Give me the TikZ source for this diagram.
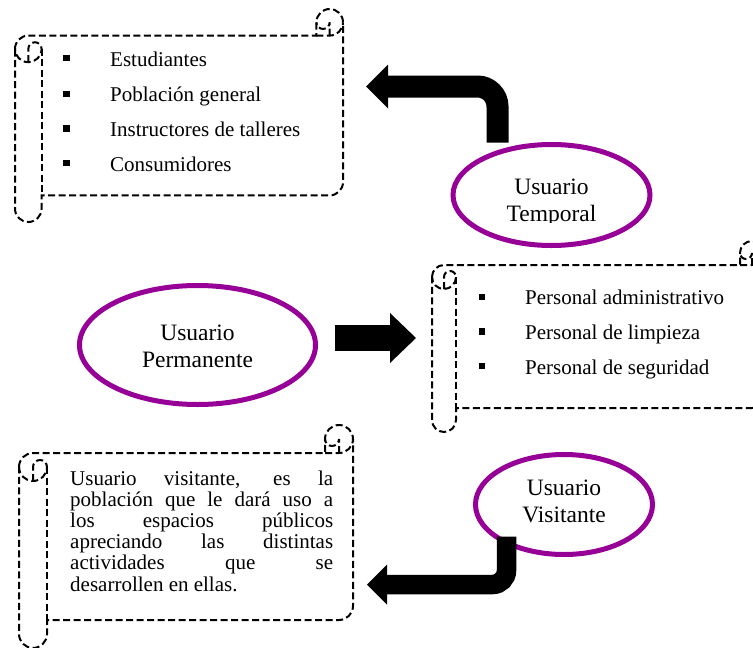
\documentclass[tikz,border=0pt]{standalone}
\usepackage{fontspec}
\setmainfont{Liberation Serif}
\usetikzlibrary{shapes.geometric,arrows.meta}
\definecolor{elpurple}{RGB}{150,0,150}
\newcommand\hscroll[5]{% left top right bottom ch
  \pgfmathsetmacro\scrHalf{#5/2}%
  \pgfmathsetmacro\scrQuar{#5/4}%
  \draw[scrollline] (#1,{#2+1.5*#5}) arc[start angle=180,delta angle=90,radius=\scrHalf]
     -- ({#3-#5},{#2+#5}) -- ({#3-#5},{#2+\scrHalf})
     arc[start angle=180,delta angle=180,radius=\scrHalf]
     -- (#3,{#4-1.5*#5}) arc[start angle=0,delta angle=90,radius=\scrHalf]
     -- ({#1+#5},{#4-#5}) -- ({#1+#5},{#4-\scrHalf})
     arc[start angle=0,delta angle=180,radius=\scrHalf] -- cycle;
  \draw[scrollline] ({#3-#5},{#2+#5}) -- ({#3-\scrHalf},{#2+#5})
     arc[start angle=90,delta angle=-90,radius=\scrHalf];
  \draw[scrollline] ({#3-\scrHalf},{#2+#5}) -- ({#3-\scrHalf},{#2+\scrHalf})
     arc[start angle=0,delta angle=180,radius=\scrQuar];
  \draw[scrollline] ({#1+\scrHalf},{#2+2*#5}) -- ({#1+\scrHalf},{#2+1.5*#5})
     arc[start angle=180,delta angle=180,radius=\scrQuar]
     arc[start angle=0,delta angle=180,radius=\scrHalf];
  \draw[scrollline] ({#1+#5},{#2+1.5*#5}) -- ({#1+#5},{#4-#5});
}
\begin{document}
\begin{tikzpicture}[x=1pt,y=-1pt,
  scrollline/.style={line width=2pt,dash pattern=on 7pt off 3.5pt,black},
  userell/.style={ellipse,draw=elpurple,line width=5pt,inner sep=0pt},
  eltext/.style={anchor=base,inner sep=0pt,font=\fontsize{23.5}{27}\selectfont},
  itemtext/.style={anchor=base west,inner sep=0pt,font=\fontsize{21}{25}\selectfont},
  bul/.style={fill=black,minimum size=6.5pt,inner sep=0pt},
  bigarrow/.style={draw=black,line cap=butt}
]
\useasboundingbox (0,0) rectangle (753,648);
\clip (0,0) rectangle (753,648);

% scrolls
\hscroll{15}{9}{343}{222}{26.6}
\hscroll{432}{241}{764}{432}{24}
\hscroll{19}{425}{353}{648}{28}

% list 1
\node[bul] (b11) at (66.5,58) {};
\node[bul] (b12) at (66.5,94) {};
\node[bul] (b13) at (66.5,128.5) {};
\node[bul] (b14) at (66.5,163) {};
\node[itemtext] (t11) at (110,66.5) {Estudiantes};
\node[itemtext] (t12) at (110,101.5) {Población general};
\node[itemtext] (t13) at (110,136.5) {Instructores de talleres};
\node[itemtext] (t14) at (110,171) {Consumidores};

% list 2
\node[bul] (b21) at (482,297) {};
\node[bul] (b22) at (482,331.5) {};
\node[bul] (b23) at (482,366) {};
\node[itemtext] (t21) at (525,304) {Personal administrativo};
\node[itemtext] (t22) at (525,339) {Personal de limpieza};
\node[itemtext] (t23) at (525,374) {Personal de seguridad};

% paragraph
\node[anchor=base west,inner sep=0pt] (para) at (70,485)
  {\parbox[t]{263pt}{\fontsize{21}{21.2}\selectfont\hbadness=10000
   Usuario visitante, es la\linebreak
   población que le dará uso a\linebreak
   los espacios públicos\linebreak
   apreciando las distintas\linebreak
   actividades que se\linebreak
   desarrollen en ellas.}};

% ellipses
\node[userell,minimum width=197pt,minimum height=101pt] (temp) at (551.5,195) {};
\node[userell,minimum width=236pt,minimum height=119pt] (perm) at (197.5,345) {};
\node[userell,minimum width=177pt,minimum height=100pt] (visi) at (564,504.5) {};

\node[eltext] (tempa) at (551.5,194) {Usuario};
\begin{scope}
  \clip (0,0) rectangle (753,222.5);
  \node[eltext] (tempb) at (551.5,221) {Temporal};
\end{scope}
\node[eltext] (perma) at (197.5,340) {Usuario};
\node[eltext] (permb) at (197.5,367) {Permanente};
\node[eltext] (visia) at (564,495) {Usuario};
\node[eltext] (visib) at (564,522) {Visitante};

% arrows
\coordinate (tip1) at (366,86.5);
\coordinate (tip2) at (416,338);
\coordinate (tip3) at (367,584.5);
\draw[bigarrow,line width=22pt,rounded corners=20pt,
  -{Triangle[length=22pt,width=44pt,line width=0pt]}]
  ([xshift=-54pt,yshift=-0.5pt]temp.north) |- (tip1);
\draw[bigarrow,line width=26pt,
  -{Triangle[length=26pt,width=50pt,line width=0pt]}]
  ([xshift=16.5pt,yshift=7pt]perm.east) -- (tip2);
\draw[bigarrow,line width=19.5pt,rounded corners=14pt,
  -{Triangle[length=20pt,width=40pt,line width=0pt]}]
  ([xshift=-57.5pt,yshift=20.5pt]visi.south) |- (tip3);
\end{tikzpicture}
\end{document}
